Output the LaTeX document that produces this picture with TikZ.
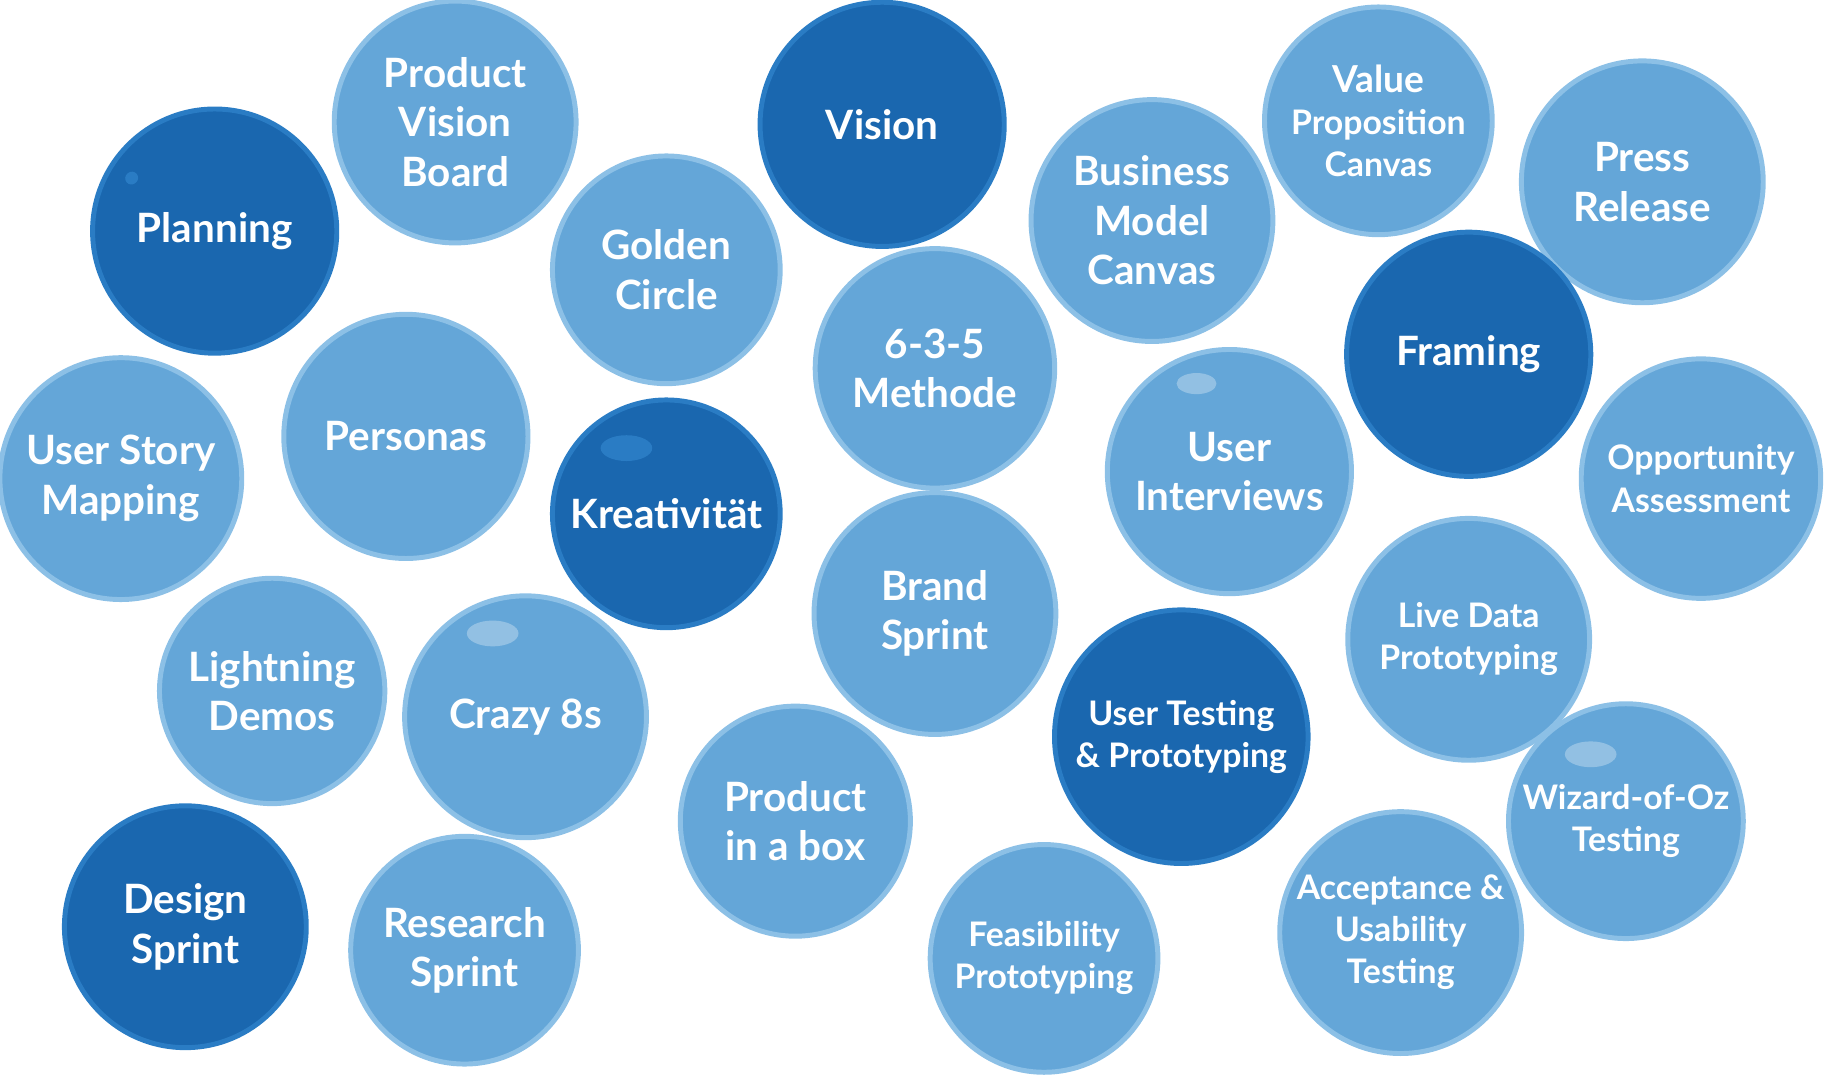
\documentclass[tikz,border=0pt]{standalone}
\usepackage{fontspec}
\setmainfont{Lato}
\definecolor{lightblue}{HTML}{64A6D8}
\definecolor{lightrim}{HTML}{8CC0E6}
\definecolor{darkblue}{HTML}{1A67AF}
\definecolor{darkrim}{HTML}{2A7CC4}
\tikzset{
  bubble/.style={circle, fill=lightblue, draw=lightrim, line width=1.2pt,
    text=white, align=center, inner sep=0pt, minimum size=#1*0.02cm,
    font=\bfseries\fontsize{9.8}{12}\selectfont},
  darkbubble/.style={bubble=#1, fill=darkblue, draw=darkrim},
  small/.style={font=\bfseries\fontsize{8.2}{10.2}\selectfont},
  shine/.style={fill=white, fill opacity=0.3}
}
\begin{document}
\begin{tikzpicture}[x=0.01cm, y=-0.01cm]
  \useasboundingbox (0,0) rectangle (1560,921);

  \node[darkbubble=104] (planning) at (183,197) {Planning};
  \node[bubble=103] (pvb) at (388,104) {Product\\Vision\\Board};
  \node[darkbubble=104] (vision) at (752,106) {Vision};
  \node[bubble=97] (golden) at (568,230) {Golden\\Circle};
  \node[bubble=103] (bmc) at (982,188) {Business\\Model\\Canvas};
  \node[bubble=97,small] (vpc) at (1175,103) {\fontsize{9}{11}\selectfont Value\\Proposition\\Canvas};
  \node[bubble=103] (press) at (1400,155) {Press\\Release};
  \node[darkbubble=104] (framing) at (1252,302) {Framing};
  \node[bubble=102] (methode) at (797,314) {6-3-5\\Methode};
  \node[bubble=103] (usm) at (103,408) {User Story\\Mapping};
  \node[bubble=104] (personas) at (346,372) {Personas};
  \node[darkbubble=97] (kreat) at (568,438) {Kreativität};
  \node[bubble=104] (interviews) at (1048,402) {User\\Interviews};
  \node[bubble=102,small] (opp) at (1450,408) {Opportunity\\Assessment};
  \node[bubble=103] (brand) at (797,523) {Brand\\Sprint};
  \node[bubble=103,small] (live) at (1252,545) {Live Data\\Prototyping};
  \node[bubble=96] (lightning) at (232,589) {Lightning\\Demos};
  \node[bubble=103] (crazy) at (448,611) {Crazy 8s};
  \node[darkbubble=108,small] (testing) at (1007,628) {User Testing\\\& Prototyping};
  \node[bubble=98] (box) at (678,700) {Product\\in a box};
  \node[bubble=100,small] (wizard) at (1386,700) {Wizard-of-Oz\\Testing};
  \node[darkbubble=103] (design) at (158,790) {Design\\Sprint};
  \node[bubble=97] (research) at (396,810) {Research\\Sprint};
  \node[bubble=97,small] (feas) at (890,817) {Feasibility\\Prototyping};
  \node[bubble=103,small] (accept) at (1194,795) {Acceptance \&\\Usability\\Testing};

  % highlights
  \draw[darkrim, line width=3pt, line cap=round] (112,152) arc[start angle=210, end angle=250, radius=0.9];
  \fill[darkrim] (534,382) ellipse[x radius=22, y radius=11];
  \fill[shine] (420,540) ellipse[x radius=22, y radius=11];
  \fill[shine] (1020,327) ellipse[x radius=17, y radius=9];
  \fill[shine] (1356,643) ellipse[x radius=22, y radius=11];
\end{tikzpicture}
\end{document}
